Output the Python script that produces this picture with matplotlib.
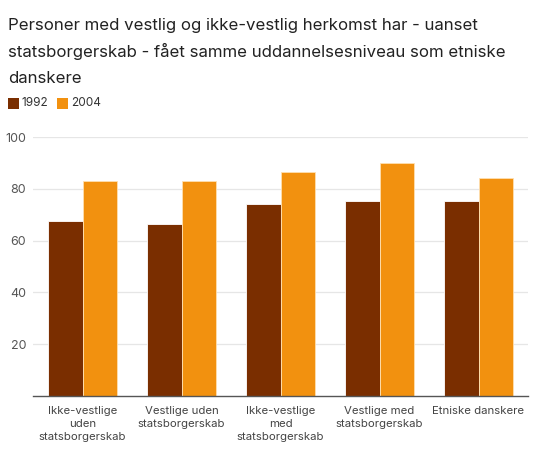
import matplotlib
matplotlib.use("Agg")
import matplotlib.pyplot as plt
import numpy as np

categories = ["Ikke-vestlige\nuden\nstatsborgerskab", "Vestlige uden\nstatsborgerskab",
              "Ikke-vestlige\nmed\nstatsborgerskab", "Vestlige med\nstatsborgerskab",
              "Etniske danskere"]
series_names = ["1992", "2004"]
values_1992 = [67.4, 66.5, 74.1, 75.1, 75.1]
values_2004 = [83.2, 83.2, 86.5, 89.8, 84.2]
yticks = [20, 40, 60, 80, 100]
title_lines = ["Personer med vestlig og ikke-vestlig herkomst har - uanset",
               "statsborgerskab - fået samme uddannelsesniveau som etniske",
               "danskere"]

colors = ["#7a2e00", "#f2910f"]
plt.rcParams['font.family'] = ['Inter', 'DejaVu Sans']

W, H = 536, 455
fig = plt.figure(figsize=(W/100, H/100), dpi=100)
ax = fig.add_axes([33/W, 1-396/H, (528-33)/W, (396-137)/H])

x = np.arange(len(categories))
bw = 0.35
ax.bar(x - bw/2, values_1992, bw, color=colors[0], edgecolor="#ffffff", linewidth=0.6, zorder=3)
ax.bar(x + bw/2, values_2004, bw, color=colors[1], edgecolor="#ffe0b0", linewidth=0.6, zorder=3)

ax.set_xlim(-0.5, len(categories) - 0.5)
ax.set_ylim(0, 100)
ax.set_yticks(yticks)
ax.set_yticklabels([str(t) for t in yticks], fontsize=9, color="#555555")
ax.set_xticks(x)
ax.set_xticklabels(categories, fontsize=8.2, color="#444444", linespacing=1.4, va="top")
ax.tick_params(axis="both", length=0)
ax.tick_params(axis="y", pad=5)
ax.tick_params(axis="x", pad=7)
ax.grid(axis="y", color="#e6e6e6", linewidth=0.9, zorder=0)
for s in ["top", "right", "left"]:
    ax.spines[s].set_visible(False)
ax.spines["bottom"].set_color("#555555")
ax.spines["bottom"].set_linewidth(1.0)
ax.spines["bottom"].set_zorder(4)

for i, line in enumerate(title_lines):
    fig.text(8/W, 1-(30 + 26.7*i)/H, line, fontsize=12.1, color="#222222",
             va="baseline", ha="left")

# legend
for i, (name, c) in enumerate(zip(series_names, colors)):
    x0 = [8, 57][i]
    fig.patches.append(plt.Rectangle((x0/W, 1-109/H), 11/W, 11/H, transform=fig.transFigure,
                                     facecolor=c, edgecolor="none"))
    fig.text((x0+14)/W, 1-103.5/H, name, fontsize=8.5, color="#333333", va="center", ha="left")

fig.savefig("out.png", dpi=100)
